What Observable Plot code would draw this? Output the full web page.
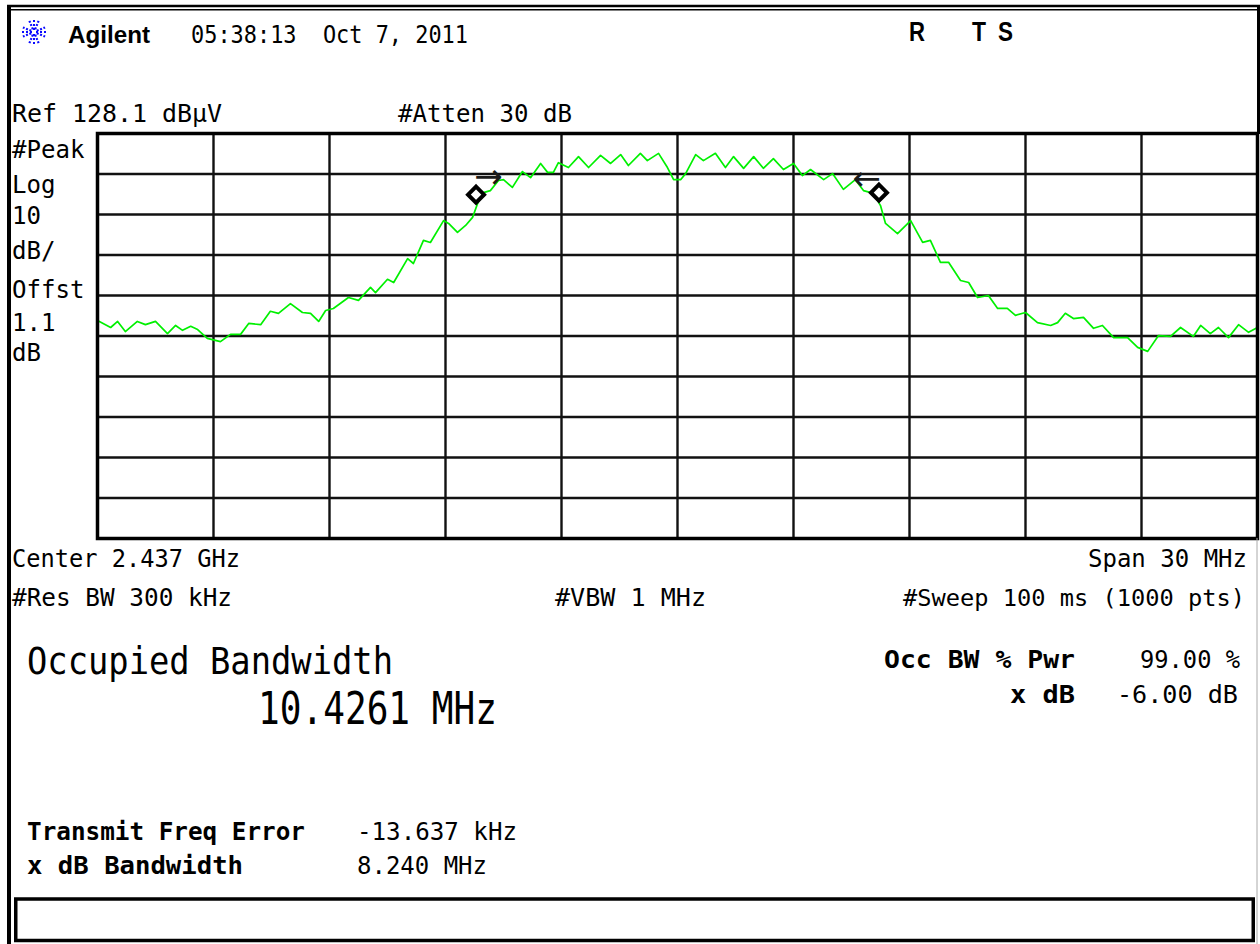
<!DOCTYPE html>
<html><head><meta charset="utf-8">
<script src="https://cdn.jsdelivr.net/npm/d3@7"></script>
<script src="https://cdn.jsdelivr.net/npm/@observablehq/plot@0.6"></script>
<style>
html,body{margin:0;padding:0;background:#fff;}
#chart{position:relative;width:1260px;height:944px;overflow:hidden;background:#fff;}
#chart svg{display:block;}
</style></head><body><div id="chart"></div>
<script>
// ---- instrument settings ----
const centerMHz = 2437;
const spanMHz = 30;
const refLevelDb = 128.1;
const dbPerDiv = 10;

// ---- trace (frequency in MHz, level in dBµV) ----
const freqMHz = [2422.00,2422.34,2422.52,2422.72,2423.03,2423.24,2423.50,2423.81,2424.02,2424.20,2424.41,2424.59,2424.84,2425.18,2425.44,2425.70,2425.91,2426.22,2426.47,2426.68,2426.99,2427.30,2427.51,2427.72,2427.90,2428.10,2428.49,2428.75,2429.06,2429.19,2429.50,2429.66,2430.02,2430.17,2430.43,2430.61,2430.95,2431.08,2431.31,2431.52,2431.70,2431.83,2431.98,2432.16,2432.37,2432.50,2432.73,2432.99,2433.20,2433.46,2433.64,2433.79,2433.92,2434.18,2434.44,2434.70,2435.01,2435.27,2435.53,2435.73,2436.04,2436.22,2436.51,2436.74,2436.90,2437.08,2437.21,2437.47,2437.67,2437.98,2438.24,2438.45,2438.71,2438.97,2439.22,2439.48,2439.74,2440.00,2440.23,2440.44,2440.78,2441.01,2441.29,2441.60,2441.81,2442.07,2442.25,2442.38,2442.69,2443.03,2443.34,2443.54,2443.80,2444.01,2444.32,2444.53,2444.76,2445.04,2445.28,2445.53,2445.74,2446.00,2446.31,2446.65,2446.83,2447.03,2447.24,2447.50,2447.76,2447.99,2448.28,2448.64,2448.90,2449.16,2449.44,2449.75,2450.01,2450.34,2450.53,2450.78,2450.99,2451.25,2451.51,2451.77,2452.00];
const levelDb = [81.9,80.2,81.7,79.2,81.7,80.9,81.7,78.7,80.7,79.5,80.5,79.7,77.5,76.7,78.5,78.5,81.2,80.9,84.2,83.7,86.1,83.9,83.7,81.7,84.4,84.9,87.6,86.9,90.1,88.8,92.1,91.3,97.2,96.0,101.7,101.2,106.6,105.9,103.7,105.4,107.4,110.8,113.5,114.0,116.5,116.7,114.8,118.7,117.2,120.7,118.5,118.5,120.9,119.7,122.4,119.7,122.7,120.7,122.9,120.2,123.2,121.4,123.2,119.7,116.7,116.7,118.2,122.9,121.4,123.2,119.7,122.4,119.5,122.4,119.5,121.9,119.2,120.7,117.7,119.2,116.7,118.2,114.3,116.7,114.0,113.3,110.3,105.9,103.4,106.6,101.2,101.7,96.3,96.3,91.8,91.3,87.6,88.1,84.9,84.9,83.2,83.9,81.4,80.7,81.4,83.7,82.4,82.7,80.0,80.7,77.7,77.7,75.3,74.3,78.2,78.0,80.2,78.0,80.7,78.7,80.2,77.7,80.9,79.0,80.2];

// ---- graticule ----
const gridFreqMHz = [2425,2428,2431,2434,2437,2440,2443,2446,2449];
const gridLevelDb = [118.1,108.1,98.1,88.1,78.1,68.1,58.1,48.1,38.1];

// ---- occupied-bandwidth markers and arrows ----
const markerFreqMHz = [2431.79, 2442.21];
const markerLevelDb = [113.0, 113.5];
const arrowFreqMHz = [2432.11, 2441.89];
const arrowLevelDb = [117.3, 116.9];
const arrowGlyphs = ["\u2192", "\u2190"];

// ---- screen annotations ----
const headerTime = "05:38:13  Oct 7, 2011";
const headerBrand = "Agilent";
const statusLetters = ["R", "T", "S"];
const refLabel = "Ref 128.1 dB\u00b5V";
const attenLabel = "#Atten 30 dB";
const leftLabels = ["#Peak", "Log", "10", "dB/", "Offst", "1.1", "dB"];
const centerLabel = "Center 2.437 GHz";
const spanLabel = "Span 30 MHz";
const rbwLabel = "#Res BW 300 kHz";
const vbwLabel = "#VBW 1 MHz";
const sweepLabel = "#Sweep 100 ms (1000 pts)";
const obwTitle = "Occupied Bandwidth";
const obwValue = "10.4261 MHz";
const resultNames = ["Occ BW % Pwr", "x dB"];
const resultValues = ["99.00 %", "-6.00 dB"];
const bottomNames = ["Transmit Freq Error", "x dB Bandwidth"];
const bottomValues = ["-13.637 kHz", "8.240 MHz"];

const trace = freqMHz.map((f, i) => ({f, db: levelDb[i]}));
const markers = markerFreqMHz.map((f, i) => ({f, db: markerLevelDb[i]}));
const arrows = arrowFreqMHz.map((f, i) => ({f, db: arrowLevelDb[i], g: arrowGlyphs[i]}));

const plot = Plot.plot({
  width: 1260, height: 944,
  marginLeft: 97, marginRight: 3, marginTop: 133, marginBottom: 406,
  x: {domain: [centerMHz - spanMHz / 2, centerMHz + spanMHz / 2], axis: null},
  y: {domain: [refLevelDb - 10 * dbPerDiv, refLevelDb], axis: null},
  style: {background: "#fff"},
  marks: [
    Plot.ruleX(gridFreqMHz, {stroke: "#111", strokeWidth: 2.4}),
    Plot.ruleY(gridLevelDb, {stroke: "#111", strokeWidth: 2.4}),
    Plot.line(trace, {x: "f", y: "db", stroke: "#00f000", strokeWidth: 1.7}),
    Plot.dot(markers, {x: "f", y: "db", symbol: "diamond2", r: 7.2, stroke: "#000", strokeWidth: 4, fill: "#fff"}),
    Plot.text(arrows, {x: "f", y: "db", text: "g", fontSize: 34, fill: "#1a1a1a", fontFamily: "DejaVu Sans"}),
    Plot.frame({stroke: "#000", strokeWidth: 3.5})
  ]
});
document.getElementById("chart").appendChild(plot);

// ---- decorations drawn into the same svg ----
const svg = d3.select(plot);
const deco = svg.append("g");
deco.append("line").attr("x1", 7).attr("x2", 1260).attr("y1", 6).attr("y2", 6).attr("stroke", "#000").attr("stroke-width", 2.5);
deco.append("line").attr("x1", 9).attr("x2", 1258).attr("y1", 9.8).attr("y2", 9.8).attr("stroke", "#000").attr("stroke-width", 1.6);
deco.append("line").attr("x1", 9).attr("x2", 9).attr("y1", 5).attr("y2", 944).attr("stroke", "#000").attr("stroke-width", 4);
deco.append("line").attr("x1", 1258.5).attr("x2", 1258.5).attr("y1", 5).attr("y2", 134).attr("stroke", "#000").attr("stroke-width", 3);
deco.append("line").attr("x1", 1257).attr("x2", 1257).attr("y1", 538).attr("y2", 944).attr("stroke", "#aaa").attr("stroke-width", 1);
deco.append("rect").attr("x", 15.75).attr("y", 899).attr("width", 1237.5).attr("height", 41.5)
  .attr("fill", "none").attr("stroke", "#000").attr("stroke-width", 3.5);

// Agilent spark logo
const logo = deco.append("g").attr("transform", "translate(34,32)");
for (let k = 0; k < 8; k++) {
  const a = k * Math.PI / 4 + Math.PI / 8;
  logo.append("line").attr("x1", Math.cos(a) * 3).attr("y1", Math.sin(a) * 3)
    .attr("x2", Math.cos(a) * 12).attr("y2", Math.sin(a) * 12)
    .attr("stroke", "#0a0aff").attr("stroke-width", 2.2).attr("stroke-dasharray", "2,1.6");
}
for (let k = 0; k < 4; k++) {
  const a = k * Math.PI / 2;
  logo.append("line").attr("x1", Math.cos(a) * 2).attr("y1", Math.sin(a) * 2)
    .attr("x2", Math.cos(a) * 12).attr("y2", Math.sin(a) * 12)
    .attr("stroke", "#0a0aff").attr("stroke-width", 2).attr("stroke-dasharray", "2,2");
}

const mono = "'DejaVu Sans Mono', monospace";
function txt(s, x, y, o = {}) {
  const t = deco.append("text").attr("x", x).attr("y", y).text(s)
    .attr("font-family", o.family || mono)
    .attr("font-size", o.size || 25)
    .attr("font-weight", o.weight || "normal")
    .attr("text-anchor", "start")
    .attr("fill", "#000")
    .style("white-space", "pre");
  if (o.len) t.attr("textLength", o.len).attr("lengthAdjust", "spacingAndGlyphs");
  return t;
}
const sans = "'Liberation Sans', Arial, sans-serif";
txt(headerBrand, 68, 43, {family: sans, weight: "bold", size: 23, len: 82});
txt(headerTime, 191, 43, {size: 25, len: 277});
txt(statusLetters[0], 909, 41, {family: sans, weight: "bold", size: 27, len: 16});
txt(statusLetters[1], 972, 41, {family: sans, weight: "bold", size: 27, len: 14});
txt(statusLetters[2], 998, 41, {family: sans, weight: "bold", size: 27, len: 15});
txt(refLabel, 12, 122, {len: 210});
txt(attenLabel, 398, 122, {len: 174});
const leftY = [158, 193, 224, 259, 298, 331, 361];
leftLabels.forEach((s, i) => txt(s, 12, leftY[i], {len: s.length * 14.5}));
txt(centerLabel, 12, 567, {len: 228});
txt(spanLabel, 1088, 567, {len: 159});
txt(rbwLabel, 12, 606, {len: 220});
txt(vbwLabel, 555, 606, {len: 151});
txt(sweepLabel, 903, 606, {size: 23.5, len: 342});
txt(obwTitle, 27, 674, {size: 37, len: 366});
txt(obwValue, 258, 724, {size: 45, len: 239});
txt(resultNames[0], 884, 668, {weight: "bold", len: 191});
txt(resultValues[0], 1140, 668, {len: 100});
txt(resultNames[1], 1010, 703, {weight: "bold", len: 65});
txt(resultValues[1], 1117, 703, {len: 121});
txt(bottomNames[0], 27, 840, {weight: "bold", len: 278});
txt(bottomValues[0], 357, 840, {len: 160});
txt(bottomNames[1], 27, 874, {weight: "bold", len: 216});
txt(bottomValues[1], 357, 874, {len: 130});
</script>
</body></html>
